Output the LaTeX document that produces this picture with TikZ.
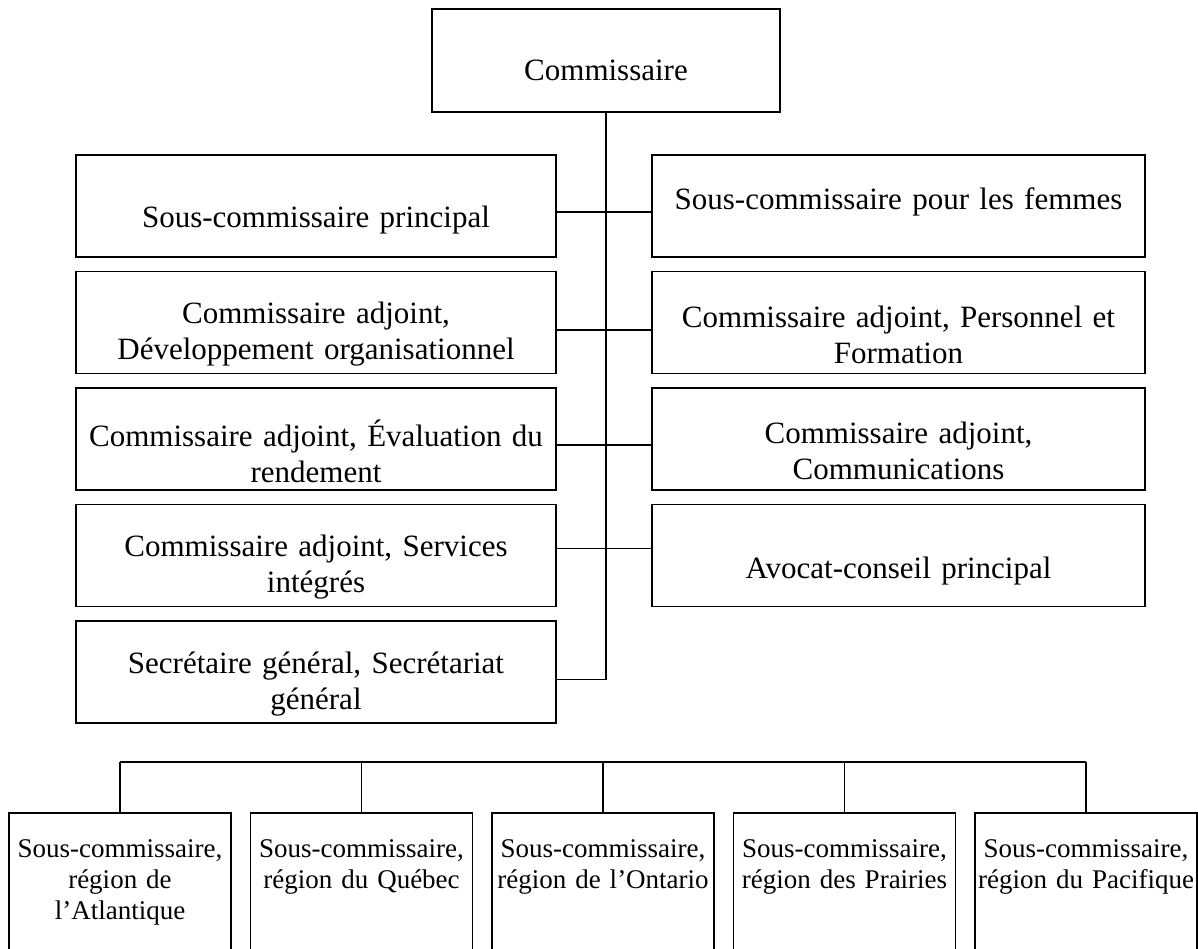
\documentclass[tikz,border=0pt]{standalone}
\usepackage{fontspec}
\setmainfont{Liberation Serif}
\usepackage{tikz}
\tikzstyle{chief} =
[rectangle, minimum width = 348pt, minimum height = 103pt, draw=black]
\tikzstyle{office} =
[rectangle, minimum width = 480pt, minimum height = 102pt, draw=black]
\tikzstyle{officer} =
[rectangle, minimum width = 493pt, minimum height = 102pt, draw=black]
\tikzstyle{region} =
[rectangle, minimum width = 222pt, minimum height = 200pt, draw=black]
\tikzstyle{title} =
[text width = 470pt, align = center, inner sep = 0pt,
font = \fontsize{31}{36}\selectfont]
\tikzstyle{rtitle} =
[text width = 216pt, align = center, inner sep = 0pt, anchor = north,
font = \fontsize{27}{31}\selectfont]
\tikzstyle{line} = [draw]

\begin{document}
\begin{tikzpicture}[x = 1pt, y = -1pt, line width = 1.8pt,
  node distance = 116.5pt]
  \useasboundingbox (0,0) rectangle (1198,949);
  \clip (0,0) rectangle (1198,949);
  % top node
  \node [chief] (comm) at (606,60.5) {};
  \node [title] (commt) at ([yshift=-10pt]comm.center) {Commissaire};
  %
  % left column nodes
  \node [office] (prin) at (316,206) {};
  \node [office, below of=prin] (devorg) {};
  \node [office, below of=devorg] (evalrend) {};
  \node [office, below of=evalrend] (servint) {};
  \node [office, below of=servint] (secgen) {};
  \node [title] (print) at ([yshift=-14pt]prin.center)
   {Sous-commissaire principal};
  \node [title] (devorgt) at ([yshift=-12pt]devorg.center)
   {Commissaire adjoint,\\ Développement organisationnel};
  \node [title] (evalrendt) at ([yshift=-12pt]evalrend.center)
   {Commissaire adjoint, Évaluation du\\ rendement};
  \node [title] (servintt) at ([yshift=-12pt]servint.center)
   {Commissaire adjoint, Services\\ intégrés};
  \node [title] (secgent) at ([yshift=-12pt]secgen.center)
   {Secrétaire général, Secrétariat\\ général};
  %
  % right column nodes
  \node [officer, right of=prin, node distance=582.5pt] (femmes) {};
  \node [officer, below of=femmes] (persfor) {};
  \node [officer, below of=persfor] (comms) {};
  \node [officer, below of=comms] (avocat) {};
  \node [title] (femmest) at ([yshift=4pt]femmes.center)
   {Sous-commissaire pour les femmes};
  \node [title] (persfort) at ([yshift=-12pt]persfor.center)
   {Commissaire adjoint, Personnel et\\ Formation};
  \node [title] (commst) at ([yshift=-12pt]comms.center)
   {Commissaire adjoint,\\ Communications};
  \node [title] (avocatt) at ([yshift=-16pt]avocat.center)
   {Avocat-conseil principal};
  %
  % column edges
  \path [line] (comm.south) |- ([yshift=-7.5pt]secgen.east);
  \path [line] ([yshift=-6pt]prin.east) -- ([yshift=-6pt]femmes.west);
  \path [line] ([yshift=-7.5pt]devorg.east) -- ([yshift=-7.5pt]persfor.west);
  \path [line] ([yshift=-6pt]evalrend.east) -- ([yshift=-6pt]comms.west);
  \path [line] ([yshift=7pt]servint.east) -- ([yshift=7pt]avocat.west);
  %
  % region nodes
  \node [region] (atl) at (120,913) {};
  \node [region, right of=atl, node distance=241.5pt] (qc) {};
  \node [region, right of=qc, node distance=241.5pt] (ont) {};
  \node [region, right of=ont, node distance=241.5pt] (prai) {};
  \node [region, right of=prai, node distance=241.5pt] (pac) {};
  \node [rtitle] (atlt) at ([yshift=-27pt]atl.north)
   {Sous-commissaire,\\ région de\\ l’Atlantique};
  \node [rtitle] (qct) at ([yshift=-27pt]qc.north)
   {Sous-commissaire,\\ région du Québec};
  \node [rtitle] (ontt) at ([yshift=-27pt]ont.north)
   {Sous-commissaire,\\ région de l’Ontario};
  \node [rtitle] (prait) at ([yshift=-27pt]prai.north)
   {Sous-commissaire,\\ région des Prairies};
  \node [rtitle] (pact) at ([yshift=-27pt]pac.north)
   {Sous-commissaire,\\ région du Pacifique};
  %
  % region edges
  \coordinate (bus) at (606,762);
  \path [line] (bus -| atl.north) -- (bus -| pac.north);
  \path [line] (bus -| atl.north) -- (atl.north);
  \path [line] (bus -| qc.north) -- (qc.north);
  \path [line] (bus -| ont.north) -- (ont.north);
  \path [line] (bus -| prai.north) -- (prai.north);
  \path [line] (bus -| pac.north) -- (pac.north);
\end{tikzpicture}
\end{document}
